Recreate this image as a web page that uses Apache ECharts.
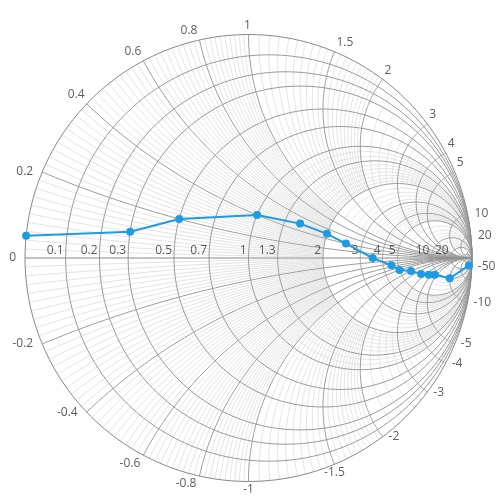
<!DOCTYPE html>
<html>
<head>
<meta charset="utf-8">
<script src="https://cdn.jsdelivr.net/npm/echarts@6/dist/echarts.min.js"></script>
<style>
  html, body { margin: 0; padding: 0; background: #fff; }
  #smith-chart { width: 500px; height: 500px; }
</style>
</head>
<body>
<div id="smith-chart"></div>
<script>
// transmission line data (normalised impedance)
const resistance = [0, 0.3, 0.5, 1, 1.5, 2, 2.5, 3.5, 4.5, 5, 6, 7, 8, 9, 10, 20];
const reactance = [0.05, 0.1, 0.2, 0.4, 0.5, 0.5, 0.4, 0, -0.5, -1, -1.5, -2.5, -3.5, -4.5, -10, -50];

// axis labels
const resistanceLabels = [0.1, 0.2, 0.3, 0.5, 0.7, 1, 1.3, 2, 3, 4, 5, 10, 20];
const reactanceLabels = [0, 0.2, 0.4, 0.6, 0.8, 1, 1.5, 2, 3, 4, 5, 10, 20,
    -0.2, -0.4, -0.6, -0.8, -1, -1.5, -2, -3, -4, -5, -10, -50];

// grid values
const majorResistance = [0.1, 0.2, 0.3, 0.5, 0.7, 1, 1.3, 2, 3, 4, 5, 10, 20, 50];
const majorReactance = [0.2, 0.4, 0.6, 0.8, 1, 1.5, 2, 3, 4, 5, 10, 20, 50];

// z = r + jx  ->  gamma = (z - 1) / (z + 1)
function gamma(r, x) {
    const d = (r + 1) * (r + 1) + x * x;
    return [(r * r + x * x - 1) / d, 2 * x / d];
}

// constant reactance arc, r from a to b
function reactArc(x, a, b) {
    const sa = a / (1 + a);
    const sb = b === Infinity ? 0.9995 : b / (1 + b);
    const pts = [];
    for (let i = 0; i <= 120; i++) {
        const s = sa + (sb - sa) * i / 120;
        pts.push(gamma(s / (1 - s), x));
    }
    if (b === Infinity) pts.push([1, 0]);
    return pts;
}

// constant resistance arc, x from a to b
function resArc(r, a, b) {
    const pa = Math.atan(a), pb = Math.atan(b);
    const pts = [];
    for (let i = 0; i <= 160; i++) {
        const p = pa + (pb - pa) * i / 160;
        const x = Math.abs(p) > 1.5705 ? Math.sign(p) * 1e5 : Math.tan(p);
        pts.push(gamma(r, x));
    }
    return pts;
}

function steps(from, to, step, skip) {
    const out = [];
    for (let v = from; v <= to + 1e-9; v += step) {
        const k = Math.round(v * 1000) / 1000;
        if (!skip.some(s => Math.abs(s - k) < 1e-6)) out.push(k);
    }
    return out;
}

// minor grid
const minorLines = [];
const minorReact = [
    ...steps(0.02, 0.98, 0.02, majorReactance),
    ...steps(1.05, 1.95, 0.05, majorReactance),
    ...steps(2.2, 4.8, 0.2, majorReactance),
    ...steps(6, 9, 1, majorReactance),
    ...steps(12, 18, 2, majorReactance)
];
minorReact.forEach(x => {
    minorLines.push({ coords: reactArc(x, 0, 2) });
    minorLines.push({ coords: reactArc(-x, 0, 2) });
});
const minorRes = [
    ...steps(1.1, 1.9, 0.1, majorResistance),
    ...steps(2.2, 4.8, 0.2, majorResistance),
    ...steps(6, 9, 1, majorResistance),
    ...steps(12, 18, 2, majorResistance)
];
minorRes.forEach(r => {
    minorLines.push({ coords: resArc(r, 1, Infinity) });
    minorLines.push({ coords: resArc(r, -Infinity, -1) });
});

// major grid
const majorLines = [];
majorResistance.forEach(r => majorLines.push({ coords: resArc(r, -Infinity, Infinity) }));
majorReactance.forEach(x => {
    majorLines.push({ coords: reactArc(x, 0, Infinity) });
    majorLines.push({ coords: reactArc(-x, 0, Infinity) });
});
const outline = [{ coords: resArc(0, -Infinity, Infinity) }, { coords: [[-1, 0], [1, 0]] }];

function reactLabelStyle(x) {
    if (x >= 0) {
        if (x < 0.3) return { align: 'right', verticalAlign: 'middle', offset: [-9, 0] };
        if (x < 1) return { align: 'right', verticalAlign: 'bottom', offset: [-2, -3] };
        if (x === 1) return { align: 'center', verticalAlign: 'bottom', offset: [-1, -3] };
        if (x <= 5) return { align: 'left', verticalAlign: 'bottom', offset: [2, -3] };
        return { align: 'left', verticalAlign: 'middle', offset: [7, 0] };
    }
    if (x > -0.5) return { align: 'right', verticalAlign: 'middle', offset: [-9, 0] };
    if (x > -1) return { align: 'right', verticalAlign: 'top', offset: [-3, 2] };
    if (x >= -1.5) return { align: 'center', verticalAlign: 'top', offset: [0, 2] };
    return { align: 'left', verticalAlign: 'middle', offset: [6, 0] };
}

const font = { fontFamily: '"Open Sans", "Noto Sans", sans-serif', fontSize: 12, color: '#333' };

const chart = echarts.init(document.getElementById('smith-chart'));
chart.setOption({
    animation: false,
    grid: { left: 25, top: 34.5, width: 447, height: 447 },
    xAxis: { type: 'value', min: -1, max: 1, show: false },
    yAxis: { type: 'value', min: -1, max: 1, show: false },
    series: [
        {
            type: 'lines', coordinateSystem: 'cartesian2d', polyline: true, silent: true,
            lineStyle: { color: '#e2e2e2', width: 1, opacity: 1 },
            data: minorLines, z: 1
        },
        {
            type: 'lines', coordinateSystem: 'cartesian2d', polyline: true, silent: true,
            lineStyle: { color: '#9a9a9a', width: 1, opacity: 1 },
            data: majorLines, z: 2
        },
        {
            type: 'lines', coordinateSystem: 'cartesian2d', polyline: true, silent: true,
            lineStyle: { color: '#888', width: 1, opacity: 1 },
            data: outline, z: 3
        },
        {
            type: 'scatter', symbolSize: 0, silent: true, z: 4,
            label: { show: true, position: 'inside', formatter: p => p.data.name, ...font,
                align: 'right', verticalAlign: 'bottom', offset: [-2, -1] },
            data: resistanceLabels.map(r => ({ name: String(r), value: gamma(r, 0) }))
        },
        {
            type: 'scatter', symbolSize: 0, silent: true, z: 4,
            label: { show: true, position: 'inside', formatter: p => p.data.name, ...font },
            data: reactanceLabels.map(x => ({
                name: String(x), value: gamma(0, x), label: reactLabelStyle(x)
            }))
        },
        {
            name: 'Transmission', type: 'line', z: 5,
            symbol: 'circle', symbolSize: 8, showSymbol: true,
            itemStyle: { color: '#1e9be1' },
            lineStyle: { color: '#1e9be1', width: 2 },
            data: resistance.map((r, i) => gamma(r, reactance[i]))
        }
    ]
});
</script>
</body>
</html>
